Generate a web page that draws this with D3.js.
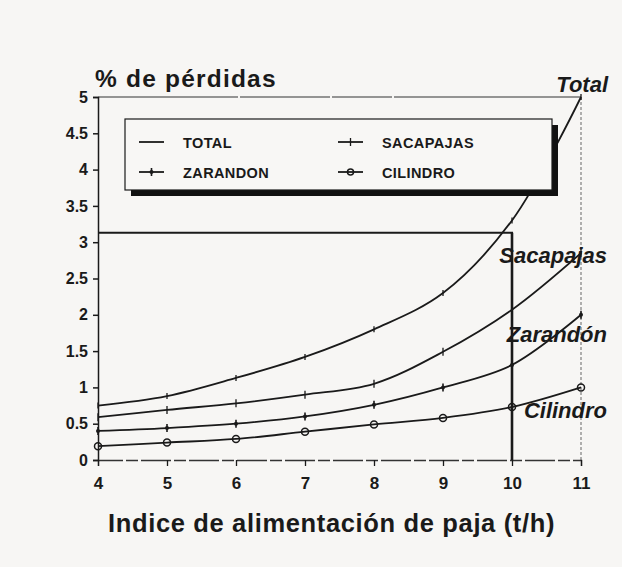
<!DOCTYPE html>
<html><head><meta charset="utf-8">
<script src="https://cdn.jsdelivr.net/npm/d3@7"></script>
<style>
html,body{margin:0;padding:0;background:#f7f6f4;}
svg{display:block;font-family:"Liberation Sans",Arial,sans-serif;}
</style></head>
<body>
<svg id="chart" width="622" height="567"></svg>
<script>
const xValues = [4, 5, 6, 7, 8, 9, 10, 11];
const totalValues = [0.75, 0.88, 1.13, 1.42, 1.8, 2.3, 3.3, 5.0];
const sacapajasValues = [0.59, 0.69, 0.78, 0.9, 1.05, 1.49, 2.07, 2.85];
const zarandonValues = [0.4, 0.44, 0.5, 0.6, 0.76, 1.0, 1.31, 2.0];
const cilindroValues = [0.19, 0.24, 0.29, 0.39, 0.49, 0.58, 0.73, 1.0];
const yTicks = [0, 0.5, 1, 1.5, 2, 2.5, 3, 3.5, 4, 4.5, 5];
const yTickLabels = ["0", "0.5", "1", "1.5", "2", "2.5", "3", "3.5", "4", "4.5", "5"];
const xTickLabels = ["4", "5", "6", "7", "8", "9", "10", "11"];
const refX = 10, refY = 3.13;
const legendNames = ["TOTAL", "ZARANDON", "SACAPAJAS", "CILINDRO"];
const seriesLabels = ["Total", "Sacapajas", "Zarandón", "Cilindro"];

const svg = d3.select("#chart");
const x = d3.scaleLinear().domain([4, 11]).range([98, 581]);
const y = d3.scaleLinear().domain([0, 5]).range([460, 97]);
const ink = "#1a1a1a";

const series = [
  {name: "total", vals: totalValues, marker: "tick", size: 3},
  {name: "sacapajas", vals: sacapajasValues, marker: "tick", size: 4},
  {name: "zarandon", vals: zarandonValues, marker: "plus", size: 4},
  {name: "cilindro", vals: cilindroValues, marker: "circle", size: 3.5}
];

// frame: top and right
svg.append("line").attr("x1", x(4)).attr("x2", x(11)).attr("y1", y(5)).attr("y2", y(5))
  .attr("stroke", "#333").attr("stroke-width", 1.2).attr("stroke-dasharray", "140,2,90,2,60,2,200");
svg.append("line").attr("x1", x(11)).attr("x2", x(11)).attr("y1", y(5)).attr("y2", y(0))
  .attr("stroke", "#666").attr("stroke-width", 1).attr("stroke-dasharray", "3,2");

// y axis
const yAxis = d3.axisLeft(y).tickValues(yTicks).tickSize(5).tickPadding(5)
  .tickFormat((d, i) => yTickLabels[i]);
const gy = svg.append("g").attr("transform", `translate(${x(4)},0)`).call(yAxis);
gy.select(".domain").attr("stroke", ink).attr("stroke-width", 1.5);
gy.selectAll(".tick line").attr("stroke", ink).attr("stroke-width", 1.5);
gy.selectAll("text").attr("font-size", 16).attr("font-weight", "bold").attr("fill", ink)
  .attr("font-family", "'Liberation Sans',Arial,sans-serif");

// x axis
const xAxis = d3.axisBottom(x).tickValues(xValues).tickSize(6).tickPadding(11)
  .tickFormat((d, i) => xTickLabels[i]);
const gx = svg.append("g").attr("transform", `translate(0,${y(0)})`).call(xAxis);
gx.select(".domain").attr("stroke", "#333").attr("stroke-width", 1.3).attr("stroke-dasharray", "30,3,12,3");
gx.selectAll(".tick line").attr("stroke", ink).attr("stroke-width", 1.3);
gx.selectAll("text").attr("font-size", 17).attr("font-weight", "bold").attr("fill", ink)
  .attr("font-family", "'Liberation Sans',Arial,sans-serif");

// reference lines
svg.append("line").attr("x1", x(4)).attr("x2", x(refX) + 1).attr("y1", y(refY)).attr("y2", y(refY))
  .attr("stroke", ink).attr("stroke-width", 2.2);
svg.append("line").attr("x1", x(refX)).attr("x2", x(refX)).attr("y1", y(refY)).attr("y2", y(0))
  .attr("stroke", ink).attr("stroke-width", 2.6);

// series lines
const line = d3.line().x((d, i) => x(xValues[i])).y(d => y(d)).curve(d3.curveCatmullRom.alpha(0.5));
function drawMarker(g, type, cx, cy, s) {
  if (type === "tick") {
    g.append("line").attr("x1", cx).attr("x2", cx).attr("y1", cy - s).attr("y2", cy + s)
      .attr("stroke", ink).attr("stroke-width", 1.3);
  } else if (type === "plus") {
    g.append("line").attr("x1", cx).attr("x2", cx).attr("y1", cy - s).attr("y2", cy + s)
      .attr("stroke", ink).attr("stroke-width", 1.6);
    g.append("circle").attr("cx", cx).attr("cy", cy).attr("r", 2).attr("fill", ink);
  } else {
    g.append("circle").attr("cx", cx).attr("cy", cy).attr("r", s)
      .attr("fill", "none").attr("stroke", ink).attr("stroke-width", 1.5);
  }
}
series.forEach(s => {
  const g = svg.append("g");
  g.append("path").attr("d", line(s.vals)).attr("fill", "none").attr("stroke", ink).attr("stroke-width", 1.8);
  s.vals.forEach((v, i) => drawMarker(g, s.marker, x(xValues[i]), y(v), s.size));
});

// legend
const lg = svg.append("g");
lg.append("rect").attr("x", 131).attr("y", 125).attr("width", 427).attr("height", 71).attr("fill", "#111");
lg.append("rect").attr("x", 125).attr("y", 119).attr("width", 427).attr("height", 71)
  .attr("fill", "#f8f7f5").attr("stroke", ink).attr("stroke-width", 1.2);
const legendItems = [
  {label: legendNames[0], marker: null, lx: 139, ly: 142},
  {label: legendNames[1], marker: "plus", lx: 139, ly: 172},
  {label: legendNames[2], marker: "tick", lx: 338, ly: 142},
  {label: legendNames[3], marker: "circle", lx: 338, ly: 172}
];
legendItems.forEach(it => {
  lg.append("line").attr("x1", it.lx).attr("x2", it.lx + 25).attr("y1", it.ly).attr("y2", it.ly)
    .attr("stroke", ink).attr("stroke-width", 1.8);
  if (it.marker) drawMarker(lg, it.marker, it.lx + 12.5, it.ly, it.marker === "circle" ? 3 : 4);
  lg.append("text").attr("x", it.lx + 44).attr("y", it.ly + 5.5).text(it.label)
    .attr("font-size", 14.5).attr("font-weight", "bold").attr("fill", ink).attr("letter-spacing", 0.4);
});

// inline series labels
const labelPos = [[608, 92], [607, 263], [607, 342], [607, 418]];
seriesLabels.forEach((t, i) => {
  svg.append("text").attr("x", labelPos[i][0]).attr("y", labelPos[i][1]).attr("text-anchor", "end")
    .attr("font-size", 22).attr("font-weight", "bold").attr("font-style", "italic").attr("fill", ink).text(t);
});

// titles
svg.append("text").attr("x", 95).attr("y", 87).attr("font-size", 24.5).attr("font-weight", "bold")
  .attr("letter-spacing", 1.2).attr("fill", ink).text("% de pérdidas");
svg.append("text").attr("x", 108).attr("y", 532).attr("font-size", 25.5).attr("font-weight", "bold")
  .attr("letter-spacing", 0.65).attr("fill", ink).text("Indice de alimentación de paja (t/h)");
</script>
</body></html>
